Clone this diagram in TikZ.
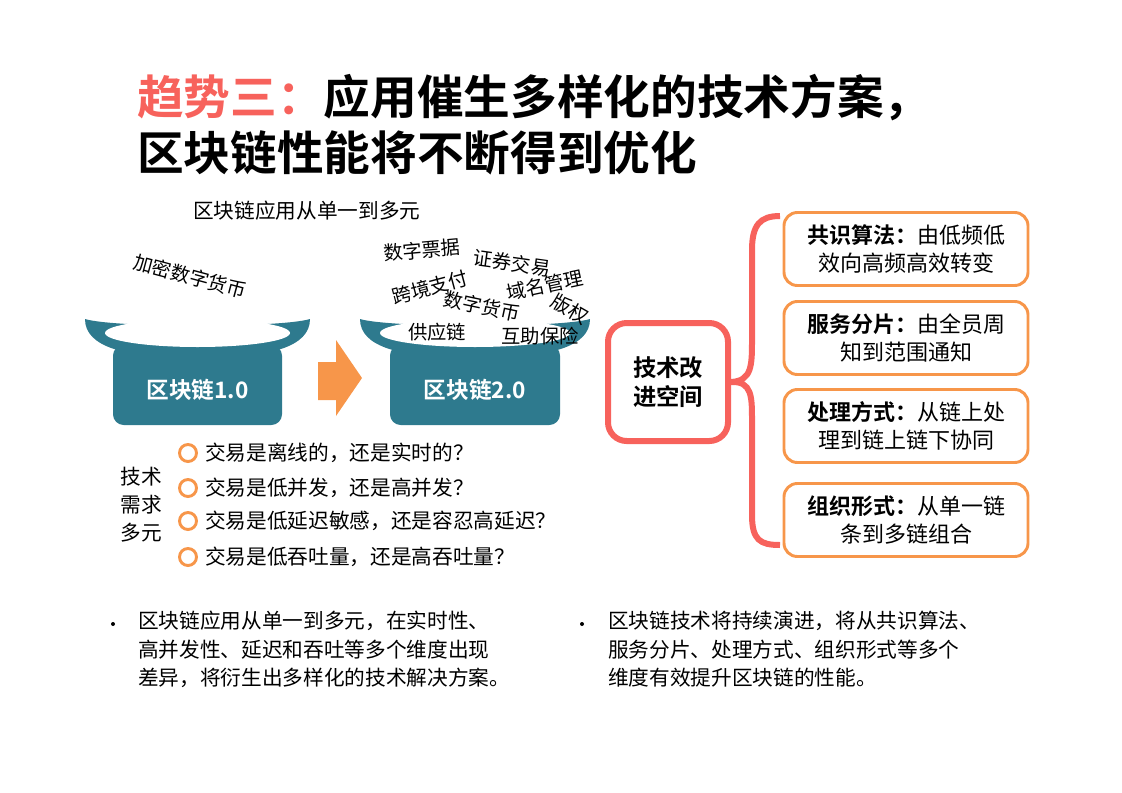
\documentclass[tikz,border=0pt]{standalone}
\usepackage{fontspec}
\setmainfont{Noto Sans CJK SC}
\newfontfamily\cjkb{Noto Sans CJK SC Bold}
\definecolor{teal}{HTML}{2E7A8E}
\definecolor{redc}{HTML}{F7625C}
\definecolor{orc}{HTML}{F7964A}
\begin{document}
\begin{tikzpicture}[x=0.75pt,y=-0.75pt,
  txt/.style={font=\fontsize{15.5}{19}\selectfont,inner sep=0pt},
  word/.style={font=\fontsize{14.5}{17}\selectfont,inner sep=0pt},
  potlabel/.style={font=\cjkb\fontsize{17}{20}\selectfont,text=white,inner sep=0pt},
  obox/.style={draw=orc,line width=2.2pt,rounded corners=10pt,minimum width=244*0.75pt,minimum height=73*0.75pt,align=center,font=\fontsize{16.5}{21}\selectfont},
  circ/.style={draw=orc,line width=2.2pt,circle,minimum size=17*0.75pt,inner sep=0pt}]
\useasboundingbox (0,0) rectangle (1122,793);
% title
\node[anchor=base west,inner sep=0pt,font=\cjkb\fontsize{35}{40}\selectfont] (t1) at (137,114) {\textcolor{redc}{趋势三：}应用催生多样化的技术方案，};
\node[anchor=base west,inner sep=0pt,font=\cjkb\fontsize{35}{40}\selectfont] (t2) at (137,170) {区块链性能将不断得到优化};
\node[txt,anchor=west] (sub) at (193,211) {区块链应用从单一到多元};
% pots
\foreach \n/\a/\b/\c/\d/\lab in {p1/85/310/113/282/区块链1.0, p2/360/590/390/560/区块链2.0}{
  \fill[teal,rounded corners=8pt] (\c,345) rectangle (\d,425);
  \fill[teal] (\a,319) .. controls (\a,347) and (\a+40,358) .. ({(\a+\b)/2},358) .. controls (\b-40,358) and (\b,347) .. (\b,319) .. controls (\b-30,328) and (\a+30,328) .. (\a,319) -- cycle;
  \fill[white] ({(\a+\b)/2},333) ellipse ({(\b-\a)/2-20} and 14);
  \node[potlabel] (\n) at ({(\c+\d)/2},390) {\lab};
}
\fill[orc] (318,362) -- (336,362) -- (336,340) -- (362,378) -- (336,416) -- (336,400) -- (318,400) -- cycle;
% words
\node[word,rotate=-15] (w0) at (190,276) {加密数字货币};
\node[word,rotate=5] (w1) at (422,250) {数字票据};
\node[word,rotate=-8] (w2) at (512,263) {证券交易};
\node[word,rotate=15] (w3) at (430,287) {跨境支付};
\node[word,rotate=12] (w4) at (545,285) {域名管理};
\node[word,rotate=-12] (w5) at (482,306) {数字货币};
\node[word,rotate=-30] (w6) at (570,309) {版权};
\node[word] (w7) at (437,332) {供应链};
\node[word] (w8) at (540,336) {互助保险};
% questions
\node[txt,align=center,font=\fontsize{15.5}{21}\selectfont] (req) at (141,505) {技术\\需求\\多元};
\foreach \y/\t [count=\i] in {453/交易是离线的，还是实时的？,488/交易是低并发，还是高并发？,521/交易是低延迟敏感，还是容忍高延迟？,557/交易是低吞吐量，还是高吞吐量？}{
  \node[circ] (c\i) at (188,\y) {};
  \node[txt,anchor=west] (q\i) at (205,\y) {\t};
}
% right side
\node[draw=redc,line width=4.5pt,rounded corners=14pt,minimum width=120*0.75pt,minimum height=118*0.75pt,align=center,font=\cjkb\fontsize{17.5}{22}\selectfont] (center) at (668,382) {技术改\\进空间};
\node[obox] (b1) at (906,249) {{\cjkb 共识算法：}由低频低\\效向高频高效转变};
\node[obox] (b2) at (906,338) {{\cjkb 服务分片：}由全员周\\知到范围通知};
\node[obox] (b3) at (906,426) {{\cjkb 处理方式：}从链上处\\理到链上链下协同};
\node[obox] (b4) at (906,520) {{\cjkb 组织形式：}从单一链\\条到多链组合};
\draw[redc,line width=4.5pt] (center.east) .. controls (752,381) and (752,365) .. (752,340) -- (752,250) .. controls (752,225) and (760,216) .. (780,216);
\draw[redc,line width=4.5pt] (center.east) .. controls (752,381) and (752,397) .. (752,420) -- (752,515) .. controls (752,540) and (760,545) .. (780,545);
% bullets
\node[txt,anchor=north west,align=left,font=\fontsize{15.5}{21.4}\selectfont] (n1) at (138,611) {区块链应用从单一到多元，在实时性、\\高并发性、延迟和吞吐等多个维度出现\\差异，将衍生出多样化的技术解决方案。};
\node[txt,anchor=north west,align=left,font=\fontsize{15.5}{21.4}\selectfont] (n2) at (608,611) {区块链技术将持续演进，将从共识算法、\\服务分片、处理方式、组织形式等多个\\维度有效提升区块链的性能。};
\fill (113,624) circle (2);
\fill (582,624) circle (2);
\end{tikzpicture}
\end{document}
